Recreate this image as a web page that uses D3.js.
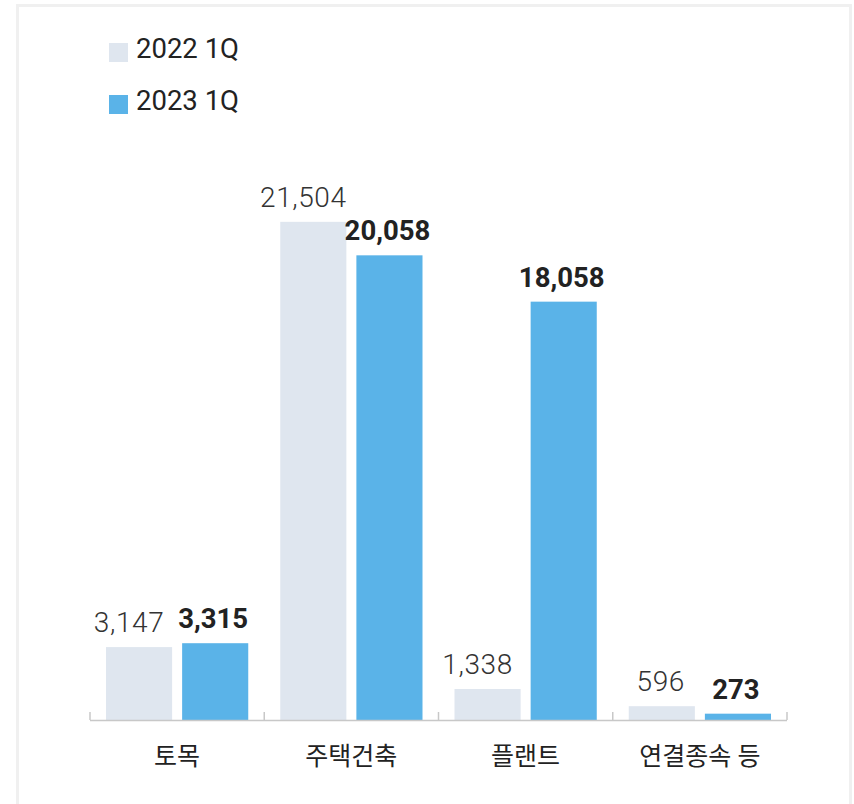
<!DOCTYPE html>
<html>
<head>
<meta charset="utf-8">
<script src="https://cdn.jsdelivr.net/npm/d3@7"></script>
<style>
  body { margin: 0; background: #fff; }
  svg { display: block; font-family: Roboto, "Noto Sans CJK KR", sans-serif; }
</style>
</head>
<body>
<svg id="chart" width="854" height="804"></svg>
<script>
const categories = ["토목", "주택건축", "플랜트", "연결종속 등"];
const series = ["2022 1Q", "2023 1Q"];
const values2022 = [3147, 21504, 1338, 596];
const values2023 = [3315, 20058, 18058, 273];

const colors = ["#dfe6ef", "#5ab3e8"];

const svg = d3.select("#chart");

// light frame around the chart
svg.append("rect")
  .attr("x", 17.5).attr("y", 5.5)
  .attr("width", 833).attr("height", 820)
  .attr("fill", "none")
  .attr("stroke", "#f0f0f0")
  .attr("stroke-width", 3);

const x = d3.scaleBand()
  .domain(categories)
  .range([90, 787]);

const inner = d3.scaleBand()
  .domain(series)
  .range([16, x.bandwidth() - 16])
  .paddingInner(10 / 76);

const y = d3.scaleLinear()
  .domain([0, 24000])
  .range([720, 164]);

const rows = categories.map((c, i) => ({
  cat: c,
  vals: [
    { s: series[0], v: values2022[i], k: 0 },
    { s: series[1], v: values2023[i], k: 1 }
  ]
}));

const groups = svg.append("g")
  .selectAll("g")
  .data(rows)
  .enter()
  .append("g")
  .attr("transform", d => `translate(${x(d.cat)},0)`);

groups.selectAll("rect")
  .data(d => d.vals)
  .enter()
  .append("rect")
  .attr("x", d => inner(d.s))
  .attr("y", d => y(d.v))
  .attr("width", inner.bandwidth())
  .attr("height", d => y(0) - y(d.v))
  .attr("fill", d => colors[d.k]);

// value labels: 2022 ones with a comma sit a bit left of the bar, 2023 is bold
groups.selectAll("text")
  .data(d => d.vals)
  .enter()
  .append("text")
  .attr("x", d => inner(d.s) + inner.bandwidth() / 2 + (d.k ? -2 : (d.v >= 1000 ? -10 : -1)))
  .attr("y", d => y(d.v) - 15)
  .attr("text-anchor", "middle")
  .attr("font-size", d => d.k ? 27.5 : 28)
  .attr("letter-spacing", d => d.k ? 0 : 0.6)
  .attr("font-weight", d => d.k ? 700 : 300)
  .attr("fill", d => d.k ? "#222" : "#333")
  .text(d => d3.format(",")(d.v));

// baseline with band ticks
const axis = svg.append("g").attr("stroke", "#c8c8c8").attr("stroke-width", 1.5);
axis.append("line")
  .attr("x1", 90).attr("x2", 787)
  .attr("y1", y(0) + 0.5).attr("y2", y(0) + 0.5);
axis.selectAll("line.tick")
  .data(categories.map(c => x(c)).concat([x.range()[1]]))
  .enter()
  .append("line")
  .attr("class", "tick")
  .attr("x1", d => d).attr("x2", d => d)
  .attr("y1", y(0) - 8).attr("y2", y(0));

svg.append("g")
  .selectAll("text")
  .data(categories)
  .enter()
  .append("text")
  .attr("x", d => x(d) + x.bandwidth() / 2)
  .attr("y", 765)
  .attr("text-anchor", "middle")
  .attr("font-size", 25)
  .attr("fill", "#222")
  .text(d => d);

// legend
const legend = svg.append("g")
  .selectAll("g")
  .data(series)
  .enter()
  .append("g")
  .attr("transform", (d, i) => `translate(109,${43 + i * 52})`);

legend.append("rect")
  .attr("width", 19).attr("height", 19)
  .attr("fill", (d, i) => colors[i]);

legend.append("text")
  .attr("x", 27)
  .attr("y", 15)
  .attr("font-size", 27.5)
  .attr("fill", "#222")
  .text(d => d);
</script>
</body>
</html>
